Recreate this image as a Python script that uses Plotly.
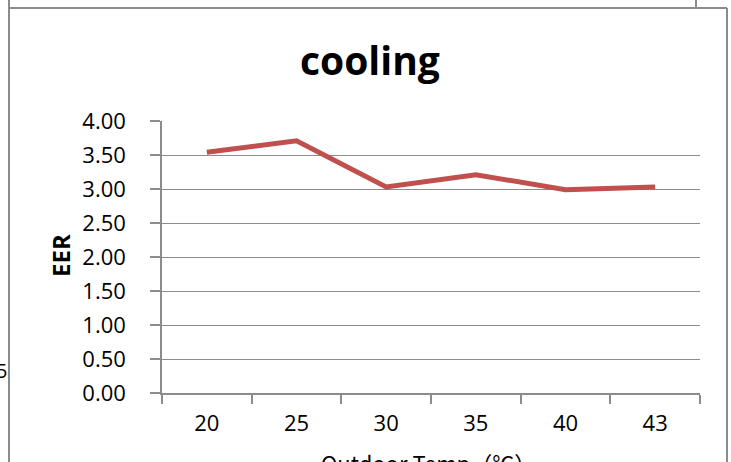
import plotly.graph_objects as go

categories = ["20", "25", "30", "35", "40", "43"]
eer_values = [3.54, 3.71, 3.03, 3.21, 2.99, 3.03]
y_ticks = [0, 0.5, 1, 1.5, 2, 2.5, 3, 3.5, 4]
y_tick_labels = ["0.00", "0.50", "1.00", "1.50", "2.00", "2.50", "3.00", "3.50", "4.00"]

W, H = 731, 462
L, R, T, B = 162, 31, 121, 69
pw, ph = W - L - R, H - T - B

def px(x):
    return (x - L) / pw

def py(y):
    return (H - B - y) / ph

fig = go.Figure()
fig.add_trace(go.Scatter(
    x=categories, y=eer_values, mode="lines",
    line=dict(color="#C0504D", width=5),
    showlegend=False, hoverinfo="skip",
))

grey = "#8c8c8c"
fig.update_layout(
    width=W, height=H,
    margin=dict(l=L, r=R, t=T, b=B, pad=0),
    paper_bgcolor="white", plot_bgcolor="white",
    font=dict(family="Open Sans", color="black"),
    xaxis=dict(
        type="category", tickson="boundaries", ticks="outside", ticklen=9,
        tickcolor=grey, tickwidth=1.5, showgrid=False,
        showline=True, linecolor=grey, linewidth=1.5,
        tickfont=dict(size=22, family="Open Sans"), ticklabelstandoff=10,
        range=[-0.5, 5.5], fixedrange=True,
    ),
    yaxis=dict(
        range=[0, 4], tickvals=y_ticks, ticktext=y_tick_labels,
        ticks="outside", ticklen=10, tickcolor=grey, tickwidth=1.5,
        showgrid=True, gridcolor=grey, gridwidth=1.3,
        showline=True, linecolor=grey, linewidth=1.5,
        tickfont=dict(size=22, family="Open Sans"), ticklabelstandoff=20,
        zeroline=False, fixedrange=True,
    ),
)

frame = dict(color=grey, width=2)
fig.add_shape(type="line", xref="paper", yref="paper", x0=px(9), x1=px(9), y0=py(-10), y1=py(480), line=frame)
fig.add_shape(type="line", xref="paper", yref="paper", x0=px(9), x1=px(727), y0=py(8), y1=py(8), line=frame)
fig.add_shape(type="line", xref="paper", yref="paper", x0=px(727), x1=px(727), y0=py(8), y1=py(480), line=frame)
fig.add_shape(type="line", xref="paper", yref="paper", x0=px(696), x1=px(696), y0=py(-10), y1=py(8), line=frame)

fig.add_annotation(text="<b>cooling</b>", xref="paper", yref="paper",
                   x=px(370), y=py(60), xanchor="center", yanchor="middle",
                   showarrow=False, font=dict(size=39, family="Open Sans"))
fig.add_annotation(text="<b>EER</b>", xref="paper", yref="paper",
                   x=px(60), y=py(256), xanchor="center", yanchor="middle",
                   textangle=-90, showarrow=False, font=dict(size=24, family="Open Sans"))
fig.add_annotation(text="Outdoor Temp（℃）", xref="paper", yref="paper",
                   x=px(428), y=py(462), xanchor="center", yanchor="middle",
                   showarrow=False, font=dict(size=22, family="Noto Sans CJK SC"))
fig.add_annotation(text="5", xref="paper", yref="paper",
                   x=px(9), y=py(370), xanchor="right", yanchor="middle",
                   showarrow=False, font=dict(size=20, family="Open Sans"))

fig.write_html("out.html", config={"displayModeBar": False},
               post_script="document.body.style.margin='0';document.body.style.overflow='hidden';")
